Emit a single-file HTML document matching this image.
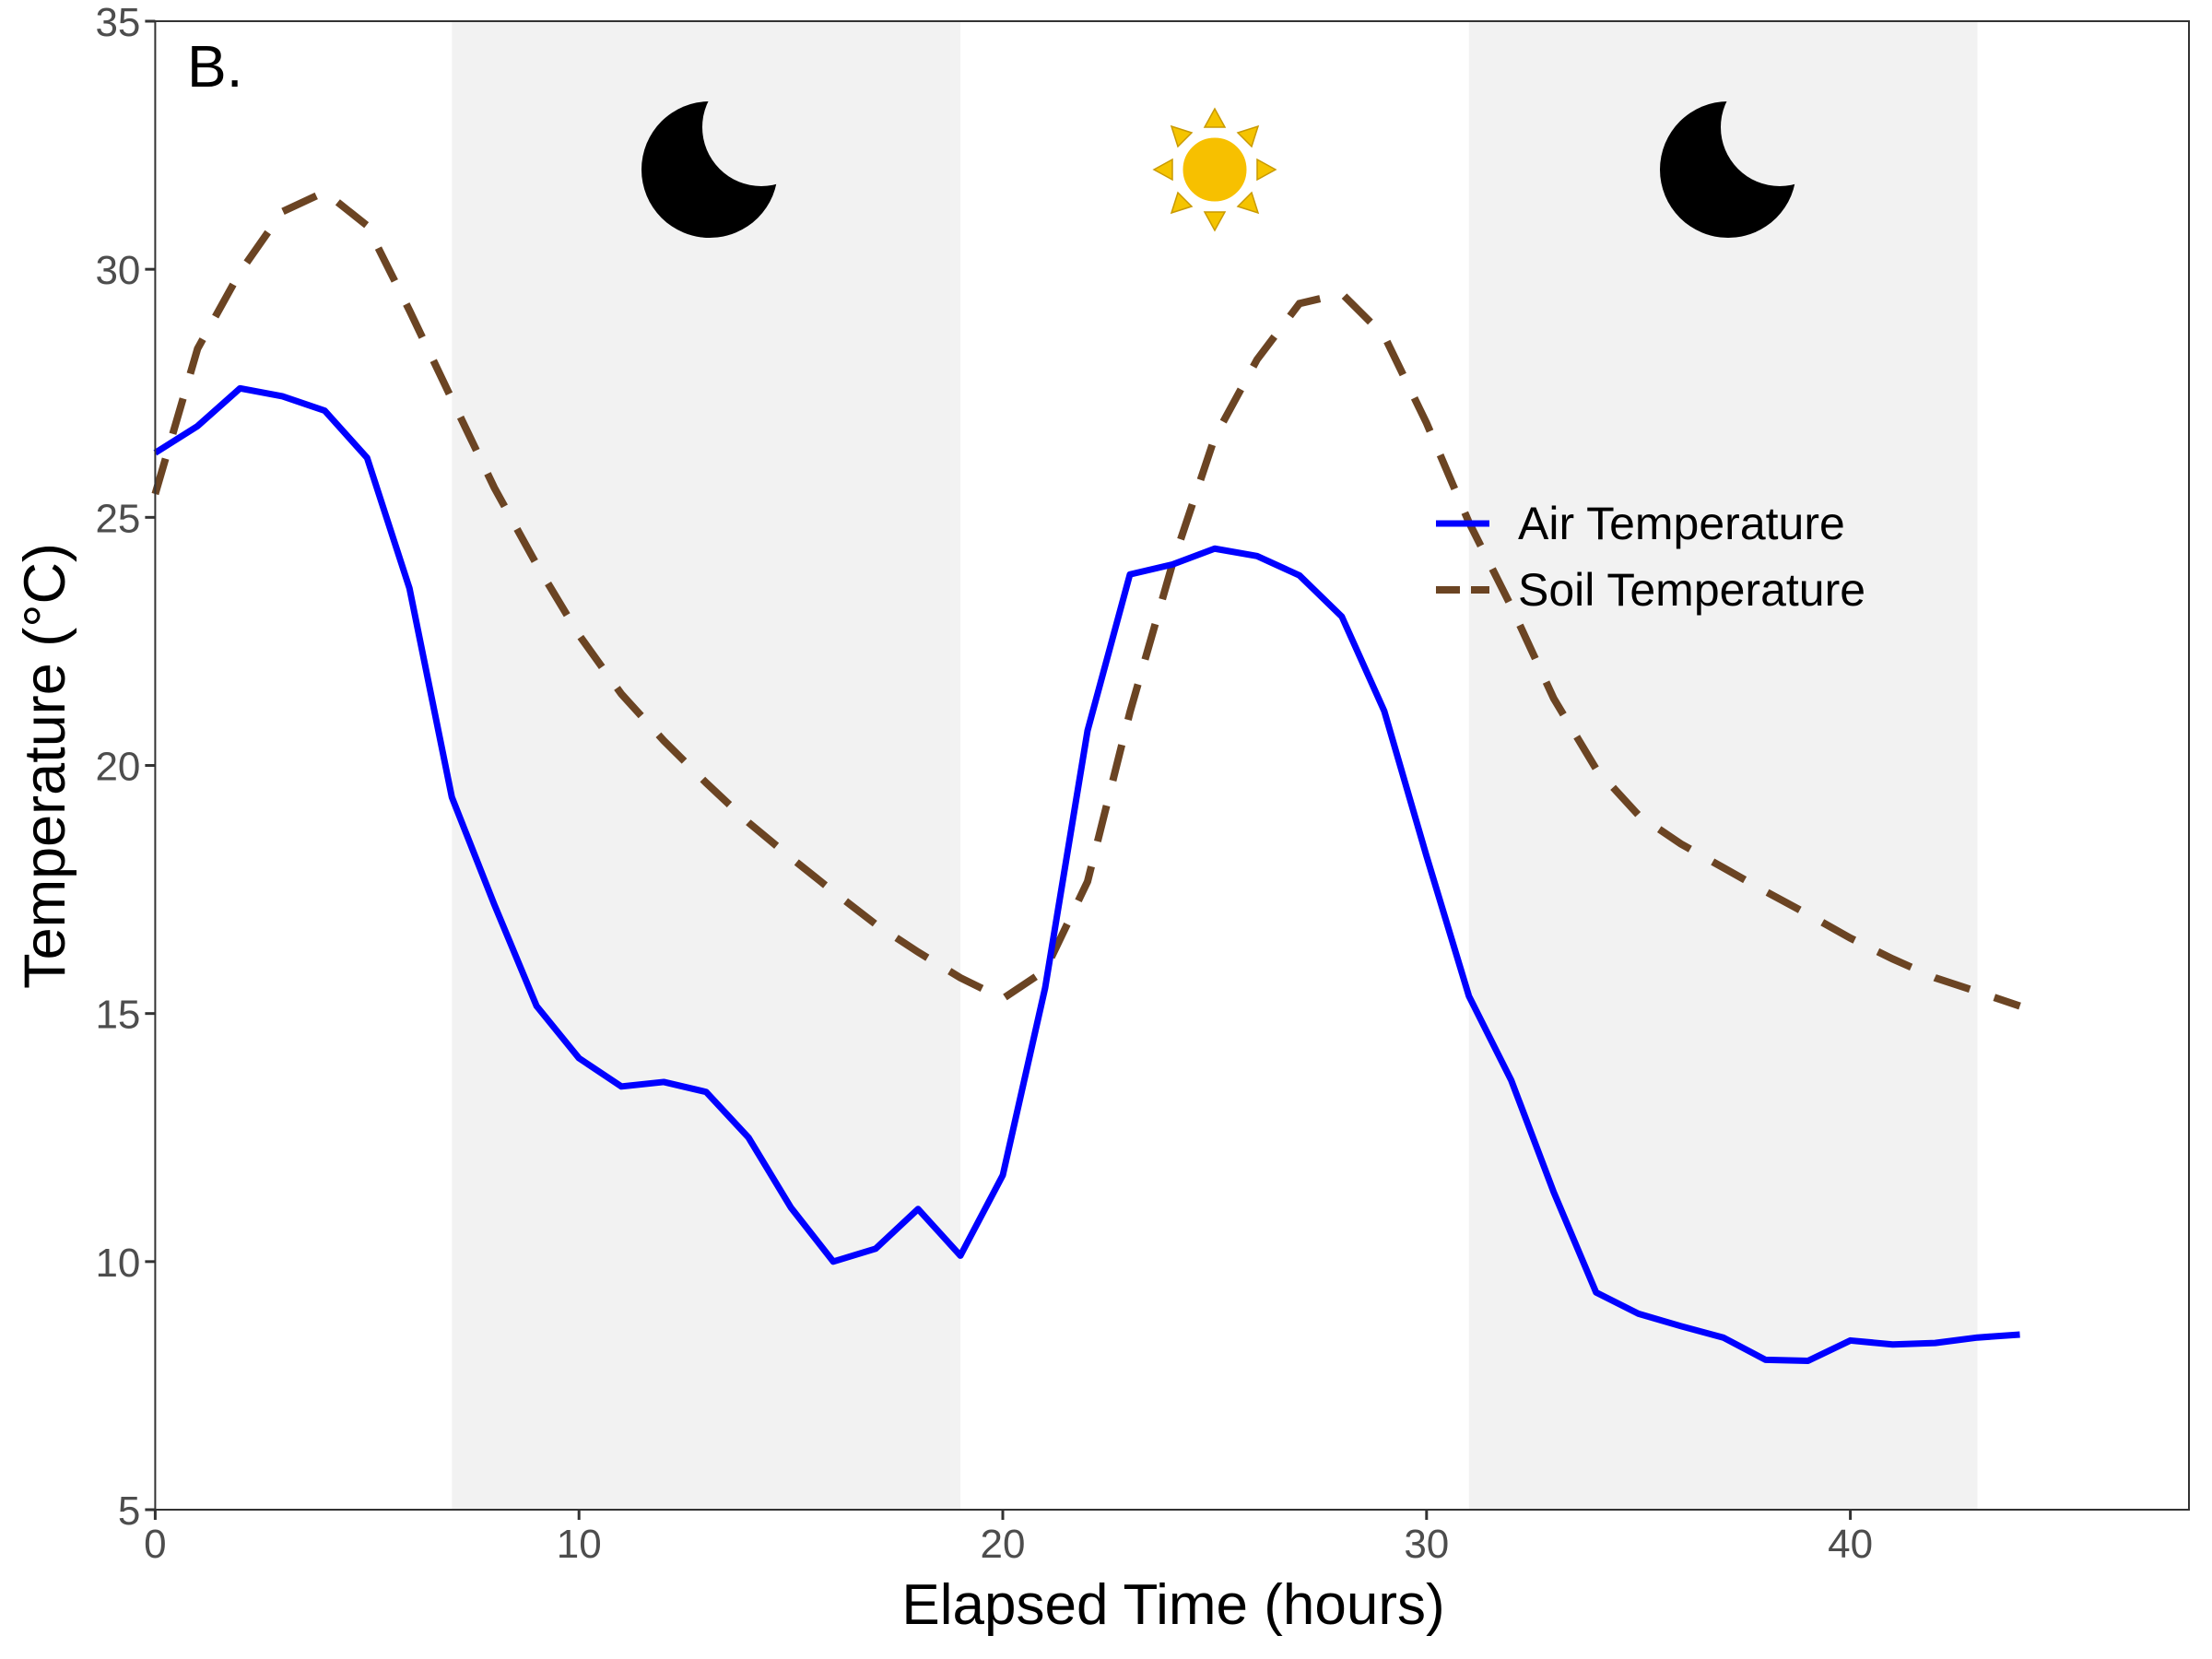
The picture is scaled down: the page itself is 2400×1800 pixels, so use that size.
<!DOCTYPE html>
<html><head><meta charset="utf-8"><style>
body{margin:0;background:#fff}
svg{display:block;font-family:"Liberation Sans",sans-serif}
</style></head><body>
<svg id="chart" width="2400" height="1800" viewBox="0 0 2400 1800">
<g id="night"></g>
<g id="icons">
 <g>
  <circle cx="770" cy="184" r="74" fill="#000"/><circle cx="826" cy="138" r="64" fill="#f2f2f2"/>
 </g>
 <g>
  <circle cx="1875" cy="184" r="74" fill="#000"/><circle cx="1931" cy="138" r="64" fill="#f2f2f2"/>
 </g>
 <g transform="translate(1318,184)">
  <g fill="#f5c400" stroke="#c99a00" stroke-width="1.5">
   <polygon points="0,-66 -11,-46 11,-46"/><polygon points="0,66 -11,46 11,46"/>
   <polygon points="-66,0 -46,-11 -46,11"/><polygon points="66,0 46,-11 46,11"/>
   <polygon points="-47,-47 -40,-25 -25,-40"/><polygon points="47,-47 40,-25 25,-40"/>
   <polygon points="-47,47 -40,25 -25,40"/><polygon points="47,47 40,25 25,40"/>
  </g>
  <circle r="36" fill="#f7c000" stroke="#fff" stroke-width="3"/>
 </g>
</g>
<g id="series"></g>
<rect x="168.4" y="23" width="2206.6" height="1615" fill="none" stroke="#333" stroke-width="2"/>
<g id="axes" fill="#4d4d4d" font-size="44"></g>
<text x="203" y="94" font-size="64" fill="#000">B.</text>
<text x="1273" y="1762" font-size="62" text-anchor="middle" fill="#000">Elapsed Time (hours)</text>
<text transform="translate(70,831) rotate(-90)" font-size="63" text-anchor="middle" fill="#000">Temperature (°C)</text>
<g>
 <line x1="1558" x2="1616" y1="568" y2="568" stroke="#0000ff" stroke-width="7"/>
 <text x="1647" y="585" font-size="50" fill="#000">Air Temperature</text>
 <line x1="1558" x2="1616" y1="640" y2="640" stroke="#6b4423" stroke-width="8" stroke-dasharray="26,12"/>
 <text x="1647" y="657" font-size="50" fill="#000">Soil Temperature</text>
</g>
</svg>
<script>
const hours=[0,1,2,3,4,5,6,7,8,9,10,11,12,13,14,15,16,17,18,19,20,21,22,23,24,25,26,27,28,29,30,31,32,33,34,35,36,37,38,39,40,41,42,43,44];
const airTemp=[26.3,26.84,27.6,27.44,27.15,26.2,23.57,19.36,17.2,15.15,14.1,13.53,13.62,13.42,12.5,11.09,10.0,10.26,11.06,10.12,11.74,15.52,20.7,23.85,24.05,24.37,24.22,23.83,23.0,21.1,18.17,15.35,13.65,11.4,9.38,8.95,8.7,8.47,8.02,8.0,8.41,8.33,8.36,8.47,8.53];
const soilTemp=[25.47,28.4,29.94,31.16,31.56,30.88,29.17,27.38,25.6,24.05,22.63,21.44,20.5,19.65,18.85,18.14,17.46,16.8,16.24,15.72,15.3,15.87,17.66,21.07,24.05,26.61,28.18,29.31,29.51,28.66,26.9,24.9,23.2,21.35,19.93,19.0,18.42,17.94,17.46,17.0,16.52,16.1,15.72,15.44,15.15];
const nightStart=[7,31];
const nightEnd=[19,43];
const xTicks=[0,10,20,30,40];
const yTicks=[5,10,15,20,25,30,35];
const X0=168.4,X1=2375,Y0=1638,Y1=23,XMAX=47.99,YMIN=5,YMAX=35;
const sx=v=>X0+(v/XMAX)*(X1-X0);
const sy=v=>Y0-(v-YMIN)/(YMAX-YMIN)*(Y0-Y1);
const NS="http://www.w3.org/2000/svg";
function mk(t,a,p){const e=document.createElementNS(NS,t);for(const k in a)e.setAttribute(k,a[k]);p.appendChild(e);return e;}
const night=document.getElementById('night');
nightStart.forEach((s,i)=>{
 const r=mk('rect',{x:sx(s),y:Y1,width:sx(nightEnd[i])-sx(s),height:Y0-Y1,fill:'#f2f2f2'},night);
 
 
});
const series=document.getElementById('series');
const soil=mk('polyline',{points:hours.map((h,i)=>sx(h)+','+sy(soilTemp[i])).join(' '),fill:'none',stroke:'#6b4423','stroke-width':8,'stroke-dasharray':'40,28'},series);


const air=mk('polyline',{points:hours.map((h,i)=>sx(h)+','+sy(airTemp[i])).join(' '),fill:'none',stroke:'#0000ff','stroke-width':7,'stroke-linejoin':'round'},series);


const axes=document.getElementById('axes');
xTicks.forEach(t=>{
 const l=mk('line',{x1:sx(t),x2:sx(t),y1:Y0,y2:Y0+11,stroke:'#333','stroke-width':3},axes);
 
 
 const tx=mk('text',{x:sx(t),y:Y0+52,'text-anchor':'middle'},axes);
 tx.textContent=t;
 
 
});
yTicks.forEach(t=>{
 const l=mk('line',{x1:X0-11,x2:X0,y1:sy(t),y2:sy(t),stroke:'#333','stroke-width':3},axes);
 
 
 const tx=mk('text',{x:X0-16,y:sy(t)+16,'text-anchor':'end'},axes);
 tx.textContent=t;
 
 
});
</script>
</body></html>
